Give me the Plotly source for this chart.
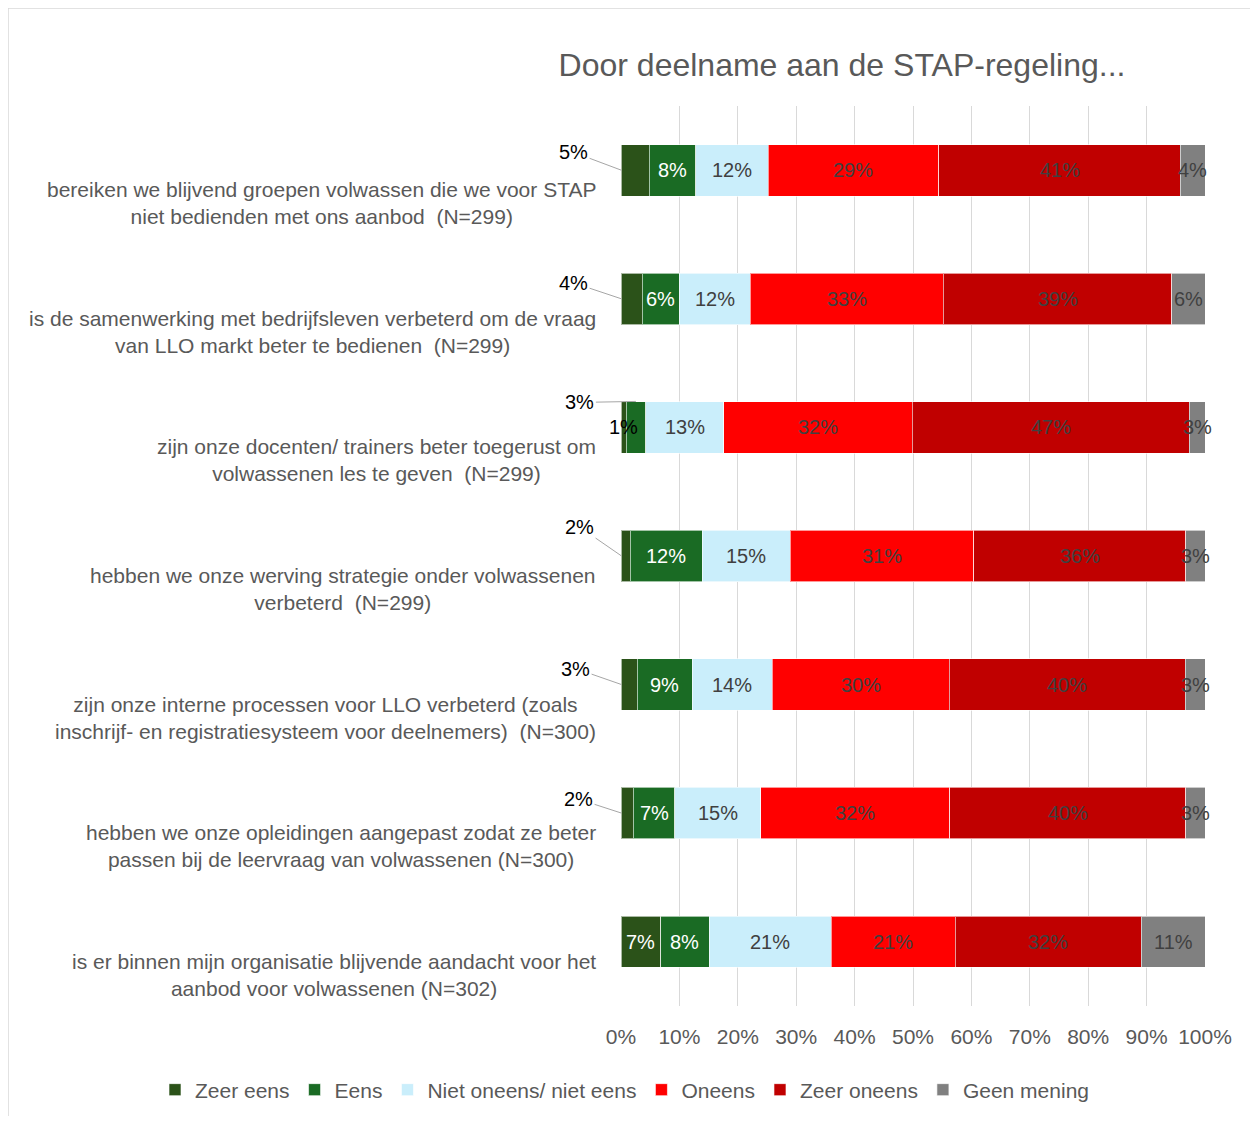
import plotly.graph_objects as go

# vragen (van boven naar beneden)
categories = [
    "bereiken we blijvend groepen volwassen die we voor STAP<br>niet bedienden met ons aanbod  (N=299)",
    "is de samenwerking met bedrijfsleven verbeterd om de vraag<br>van LLO markt beter te bedienen  (N=299)",
    "zijn onze docenten/ trainers beter toegerust om<br>volwassenen les te geven  (N=299)",
    "hebben we onze werving strategie onder volwassenen<br>verbeterd  (N=299)",
    "zijn onze interne processen voor LLO verbeterd (zoals<br>inschrijf- en registratiesysteem voor deelnemers)  (N=300)",
    "hebben we onze opleidingen aangepast zodat ze beter<br>passen bij de leervraag van volwassenen (N=300)",
    "is er binnen mijn organisatie blijvende aandacht voor het<br>aanbod voor volwassenen (N=302)",
]

series_names = ["Zeer eens", "Eens", "Niet oneens/ niet eens", "Oneens", "Zeer oneens", "Geen mening"]
zeer_eens = [4.8, 3.6, 0.9, 1.6, 2.8, 2.1, 6.8]
eens = [8.0, 6.4, 3.3, 12.3, 9.4, 7.1, 8.3]
niet_oneens = [12.4, 12.1, 13.4, 15.1, 13.7, 14.7, 20.9]
oneens = [29.2, 33.1, 32.3, 31.4, 30.3, 32.4, 21.2]
zeer_oneens = [41.4, 39.1, 47.4, 36.3, 40.4, 40.4, 31.9]
geen_mening = [4.2, 5.7, 2.7, 3.3, 3.4, 3.3, 10.9]

x_ticks = list(range(0, 101, 10))

colors = ["#2b5219", "#1a6b24", "#caeefb", "#ff0000", "#c00000", "#808080"]
label_colors = ["white", "white", "#404040", "#404040", "#404040", "#404040"]
all_series = [zeer_eens, eens, niet_oneens, oneens, zeer_oneens, geen_mening]

fig = go.Figure()
for name, vals, col in zip(series_names, all_series, colors):
    fig.add_trace(go.Bar(
        y=categories, x=vals, name=name, orientation="h",
        marker=dict(color=col, line=dict(color="rgba(255,255,255,0.6)", width=1)),
        hoverinfo="x+name",
    ))

annotations = []
# labels in de balken
for i, cat in enumerate(categories):
    start = 0
    for s, vals in enumerate(all_series):
        v = vals[i]
        mid = start + v / 2
        start += v
        txt = f"{round(v)}%"
        if s == 0 and i not in (2, 6):
            continue
        if s == 1 and i == 2:
            continue
        color = label_colors[s]
        if s == 0 and i == 2:
            color = "black"
        annotations.append(dict(x=mid, y=cat, text=txt, showarrow=False,
                                font=dict(size=20, color=color)))

# labels met verbindingslijn: reeks, x punt, yshift punt, ax, ay
leaders = {
    0: (0, 0.1, 0, -48, -18),
    1: (0, 0.1, 0, -48, -16),
    2: (1, None, 26, -56, 1),
    3: (0, 0.1, 0, -42, -29),
    4: (0, 0.1, 0, -46, -16),
    5: (0, 0.1, 0, -43, -14),
}
for i, (s, xpt, ysh, ax, ay) in leaders.items():
    vals = all_series[s]
    if xpt is None:
        xpt = sum(all_series[k][i] for k in range(s)) + vals[i] / 2
    annotations.append(dict(
        x=xpt, y=categories[i], text=f"{round(vals[i])}%", yshift=ysh,
        showarrow=True, arrowhead=0, arrowwidth=1, arrowcolor="#a6a6a6",
        ax=ax, ay=ay, standoff=0, font=dict(size=20, color="black"),
    ))

# vraagteksten
for cat in categories:
    annotations.append(dict(
        x=0, xref="paper", y=cat, yref="y", xanchor="right", xshift=-23,
        yshift=-33, text=cat, showarrow=False, align="center",
        font=dict(size=21, color="#595959"),
    ))

# pagina heeft 8px marge, dus alles 8px naar links/boven
W, H = 1250, 1108
L, R, T, B = 613, 53, 98, 110
pw, ph = W - L - R, H - T - B


def px_x(p):
    return (p - L) / pw


def px_y(p):
    return (H - B - p) / ph


fig.update_layout(
    width=W, height=H,
    barmode="stack", bargap=0.6,
    margin=dict(l=L, r=R, t=T, b=B, autoexpand=False),
    paper_bgcolor="white", plot_bgcolor="white",
    font=dict(family="Liberation Sans, Arial, sans-serif", size=20, color="#595959"),
    title=dict(text="Door deelname aan de STAP-regeling...", x=834 / W, xanchor="center",
               y=1 - 57 / H, yanchor="middle",
               font=dict(size=32, color="#595959")),
    xaxis=dict(range=[0, 100], tickvals=x_ticks, ticktext=[f"{t}%" for t in x_ticks],
               showgrid=True, gridcolor="#d9d9d9", gridwidth=1, zeroline=False,
               showline=False, ticks="outside", ticklen=12, tickcolor="rgba(0,0,0,0)",
               tickfont=dict(size=21, color="#595959")),
    yaxis=dict(autorange="reversed", showticklabels=False, showgrid=False,
               zeroline=False, showline=False, ticks=""),
    legend=dict(orientation="h", x=px_x(147), xanchor="left", y=px_y(1082),
                yanchor="middle", font=dict(size=21, color="#595959"),
                traceorder="normal", itemwidth=30),
    annotations=annotations,
    shapes=[dict(type="rect", xref="paper", yref="paper",
                 x0=px_x(0), x1=px_x(1270), y0=px_y(1130), y1=px_y(0),
                 line=dict(color="#d9d9d9", width=1.5), layer="below")],
    showlegend=True,
)

fig.write_html("out.html")
